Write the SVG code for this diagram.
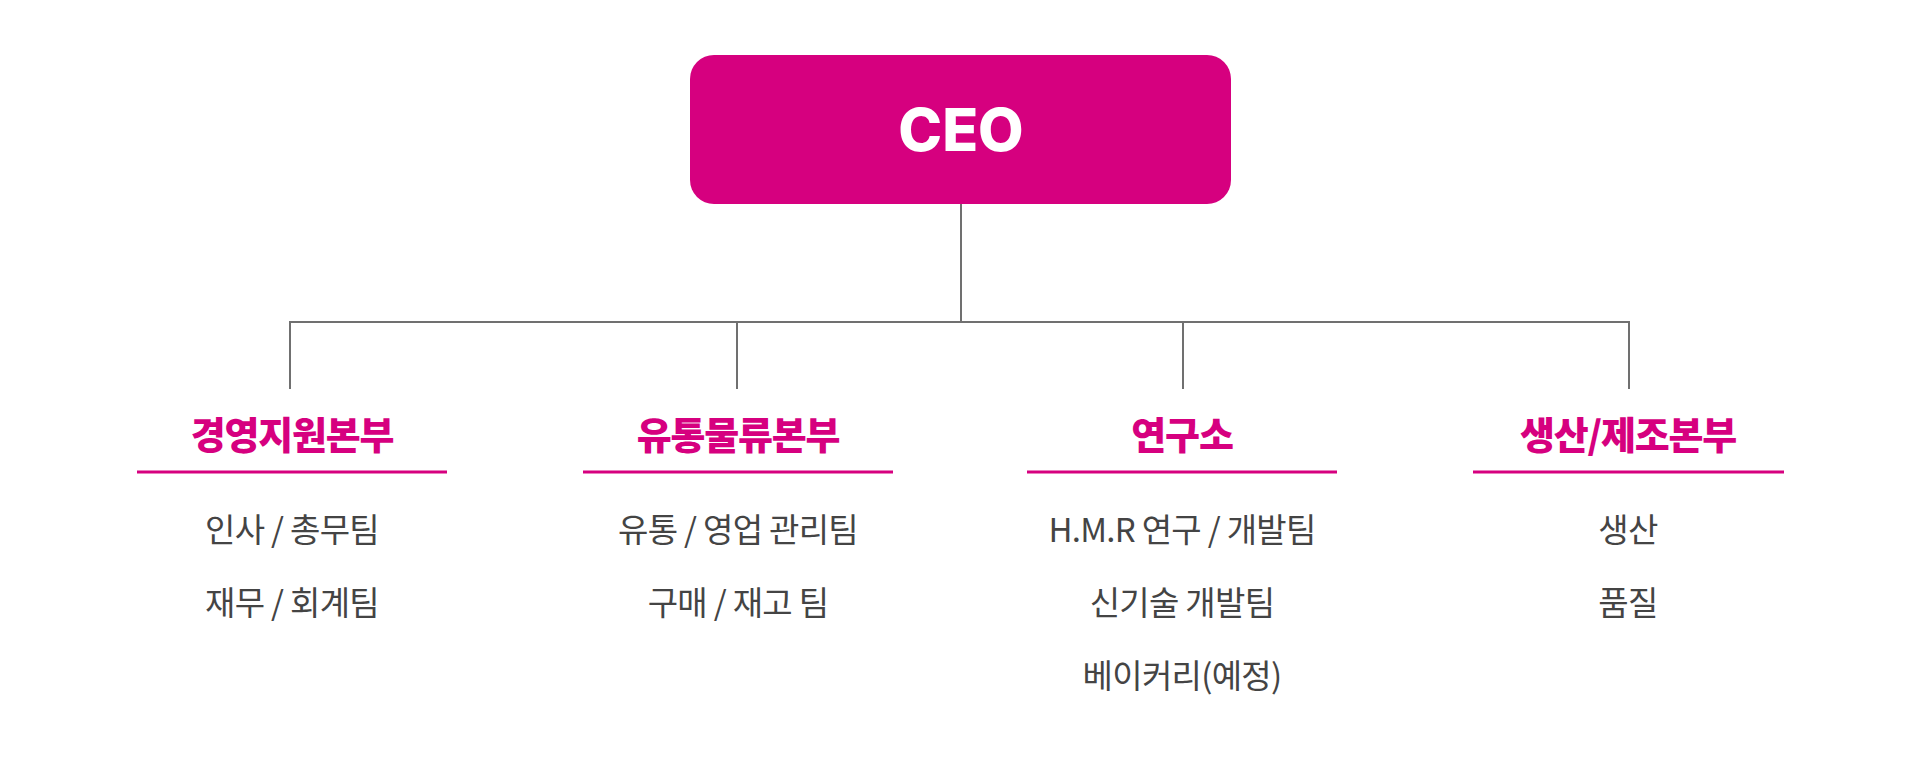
<svg xmlns="http://www.w3.org/2000/svg" width="1920" height="759" viewBox="0 0 1920 759">
<style>
.conn{stroke:#707070;stroke-width:2;fill:none}
.ul{stroke:#d6007f;stroke-width:3}
.ttl{font-family:"Noto Sans CJK KR","Noto Sans",sans-serif;font-weight:900;font-size:38px;fill:#d6007f;text-anchor:middle;letter-spacing:-1.2px}
.item{font-family:"Noto Sans CJK KR","Noto Sans",sans-serif;font-weight:400;font-size:33px;fill:#444444;text-anchor:middle;letter-spacing:-0.7px}
.ceo{font-family:Inter,"Liberation Sans",sans-serif;font-weight:800;font-size:59px;fill:#ffffff;text-anchor:middle}
</style>
<rect width="1920" height="759" fill="#ffffff"/>
<g id="connectors">
<path class="conn" d="M961 204V322M290 389V322H1629V389M737 322V389M1183 322V389"/>
</g>
<g id="ceo">
<rect x="690" y="55" width="541" height="149" rx="24" fill="#d6007f"/>
<text class="ceo" x="961" y="151">CEO</text>
</g>
<g id="dept1">
<text class="ttl" x="292" y="449">경영지원본부</text>
<line class="ul" x1="137" y1="472" x2="447" y2="472"/>
<text class="item" x="292" y="542">인사 / 총무팀</text>
<text class="item" x="292" y="615">재무 / 회계팀</text>
</g>
<g id="dept2">
<text class="ttl" x="738" y="449">유통물류본부</text>
<line class="ul" x1="583" y1="472" x2="893" y2="472"/>
<text class="item" x="738" y="542">유통 / 영업 관리팀</text>
<text class="item" x="738" y="615">구매 / 재고 팀</text>
</g>
<g id="dept3">
<text class="ttl" x="1182" y="449">연구소</text>
<line class="ul" x1="1027" y1="472" x2="1337" y2="472"/>
<text class="item" x="1182" y="542">H.M.R 연구 / 개발팀</text>
<text class="item" x="1182" y="615">신기술 개발팀</text>
<text class="item" x="1182" y="688">베이커리(예정)</text>
</g>
<g id="dept4">
<text class="ttl" x="1628" y="449">생산/제조본부</text>
<line class="ul" x1="1473" y1="472" x2="1784" y2="472"/>
<text class="item" x="1628" y="542">생산</text>
<text class="item" x="1628" y="615">품질</text>
</g>
</svg>
